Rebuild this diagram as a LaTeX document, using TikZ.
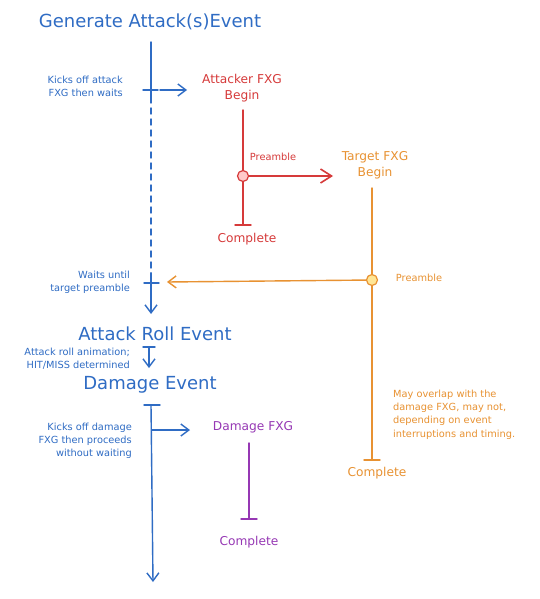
\documentclass[tikz,border=0pt]{standalone}
\usepackage{fontspec}
\setmainfont{DejaVu Sans}
\usetikzlibrary{arrows.meta}
\definecolor{cblue}{RGB}{47,108,196}
\definecolor{cred}{RGB}{214,58,58}
\definecolor{corange}{RGB}{232,146,50}
\definecolor{cpurple}{RGB}{150,56,180}
\definecolor{cpink}{RGB}{255,201,201}
\definecolor{cyellow}{RGB}{255,230,150}
\tikzset{
  big/.style={font=\fontsize{18}{20}\selectfont, inner sep=0pt},
  mid/.style={font=\fontsize{12.2}{16}\selectfont, inner sep=0pt, align=center},
  small/.style={font=\fontsize{9.8}{13.2}\selectfont, inner sep=0pt},
  ln/.style={line width=1.4pt, line cap=round},
  arr/.style={ln, -{Straight Barb[length=8pt,width=12pt,line width=1.4pt]}},
  bigarr/.style={ln, -{Straight Barb[length=11pt,width=14pt,line width=1.6pt]}},
  dot/.style={circle, draw, line width=1.2pt, minimum size=11pt, inner sep=0pt},
}
\begin{document}
\begin{tikzpicture}[x=1pt,y=-1pt]
\path[use as bounding box, fill=white] (0,0) rectangle (540,599);

% ---- Main blue timeline ----
\node[big, text=cblue] (gen) at (150,22) {Generate Attack(s)Event};
\coordinate (m0) at (151,42);
\coordinate (m1) at (151,90);
\coordinate (m1b) at (151,97);
\coordinate (m2) at (151,273);
\coordinate (m3) at (151,283);
\coordinate (m4) at (151,314);
\coordinate (t1l) at (143,90);
\coordinate (t1r) at (158,90);
\coordinate (t3l) at (144,283);
\coordinate (t3r) at (159,283);
\draw[ln, cblue] (m0) -- (m1b);
\draw[ln, cblue] (t1l) -- (t1r);
\draw[ln, cblue, dash pattern=on 6pt off 5pt] (m1b) -- (m2);
\draw[ln, cblue] (m2) -- (m3);
\draw[ln, cblue] (t3l) -- (t3r);
\draw[arr, cblue] (m3) -- (m4);

\node[small, text=cblue, anchor=east, align=right] (kick1) at (123,86.5) {Kicks off attack\\FXG then waits};
\node[small, text=cblue, anchor=east, align=right] (wait) at (130,282.5) {Waits until\\target preamble};

\node[big, text=cblue] (roll) at (155,334) {Attack Roll Event};
\coordinate (r0) at (149,347);
\coordinate (r1) at (149,368);
\coordinate (r0l) at (143,347);
\coordinate (r0r) at (155,347);
\draw[ln, cblue] (r0l) -- (r0r);
\draw[arr, cblue] (r0) -- (r1);
\node[small, text=cblue, anchor=east, align=right] (rolltxt) at (130,359) {Attack roll animation;\\HIT/MISS determined};

\node[big, text=cblue] (dmg) at (150,385) {Damage Event};
\coordinate (d0) at (151,405);
\coordinate (d1) at (152,430);
\coordinate (d2) at (153,582);
\coordinate (d0l) at (144,405);
\coordinate (d0r) at (160,405);
\draw[ln, cblue] (d0l) -- (d0r);
\draw[arr, cblue] (d0) -- (d2);
\node[small, text=cblue, anchor=east, align=right] (kick2) at (132,440.5) {Kicks off damage\\FXG then proceeds\\without waiting};

% ---- Attacker FXG (red) ----
\node[mid, text=cred] (att) at (242,88) {Attacker FXG\\Begin};
\coordinate (a0) at (243,110);
\coordinate (a2) at (243,225);
\coordinate (a2l) at (235,225);
\coordinate (a2r) at (251,225);
\node[dot, draw=cred, fill=cpink] (adot) at (243,176) {};
\draw[ln, cred] (a0) -- (adot);
\draw[ln, cred] (adot) -- (a2);
\draw[ln, cred] (a2l) -- (a2r);
\node[small, text=cred] (apre) at (273,157) {Preamble};
\node[mid, text=cred] (acomp) at (247,239) {Complete};

% ---- Target FXG (orange) ----
\node[mid, text=corange] (tgt) at (375,165) {Target FXG\\Begin};
\coordinate (o0) at (372,188);
\coordinate (o2) at (372,460);
\coordinate (o2l) at (364,460);
\coordinate (o2r) at (380,460);
\node[dot, draw=corange, fill=cyellow] (odot) at (372,280) {};
\draw[ln, corange] (o0) -- (odot);
\draw[ln, corange] (odot) -- (o2);
\draw[ln, corange] (o2l) -- (o2r);
\node[small, text=corange] (opre) at (419,278) {Preamble};
\node[mid, text=corange] (ocomp) at (377,473) {Complete};
\node[small, text=corange, anchor=west, align=left] (note) at (393,414.5) {May overlap with the\\damage FXG, may not,\\depending on event\\interruptions and timing.};

% ---- Damage FXG (purple) ----
\node[mid, text=cpurple] (dfx) at (253,427) {Damage FXG};
\coordinate (p0) at (249,443);
\coordinate (p1) at (249,519);
\coordinate (p1l) at (241,519);
\coordinate (p1r) at (257,519);
\draw[ln, cpurple] (p0) -- (p1);
\draw[ln, cpurple] (p1l) -- (p1r);
\node[mid, text=cpurple] (pcomp) at (249,542) {Complete};

% ---- Cross connectors ----
\coordinate (k1a) at (160,90);
\coordinate (k1b) at (187,90);
\draw[arr, cblue] (k1a) -- (k1b);
\coordinate (aarr) at (333,176);
\draw[bigarr, cred] (adot) -- (aarr);
\coordinate (oarr) at (167,282);
\draw[arr, corange] (odot) -- (oarr);
\coordinate (k2b) at (190,430);
\draw[arr, cblue] (d1) -- (k2b);
\end{tikzpicture}
\end{document}
